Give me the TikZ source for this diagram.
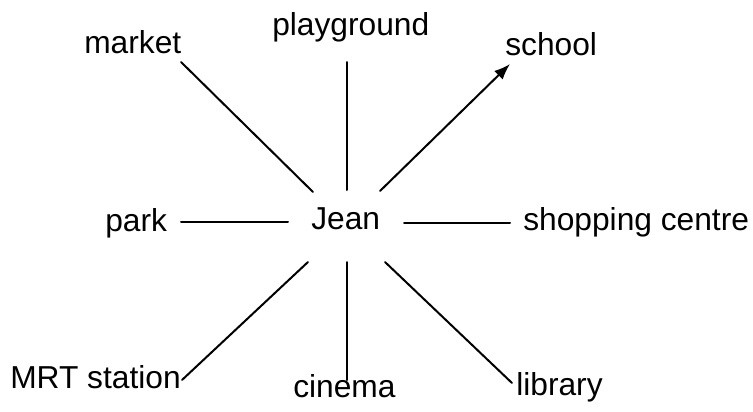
\documentclass[tikz,border=0pt]{standalone}
\usepackage{fontspec}
\setmainfont{Liberation Sans}
\usetikzlibrary{arrows.meta}
\begin{document}
\begin{tikzpicture}[x=0.75pt,y=-0.75pt,
  lbl/.style={anchor=base west,inner sep=0pt,font=\fontsize{23.8}{28}\selectfont},
  link/.style={line width=1.5pt,line cap=round}]
\useasboundingbox (0,0) rectangle (753,411);
% labels
\node[lbl] (playground) at (272,35) {playground};
\node[lbl] (market) at (84,53) {market};
\node[lbl] (school) at (505,55) {school};
\node[lbl] (park) at (105,231) {park};
\node[lbl] (jean) at (311,229) {Jean};
\node[lbl] (shopping) at (523,230) {shopping centre};
\node[lbl] (mrt) at (10,388) {MRT station};
\node[lbl] (cinema) at (293,397) {cinema};
\node[lbl] (library) at (516,395) {library};
% connector ends
\coordinate (playground-e) at (347,62);
\coordinate (jean-n) at (347,190);
\coordinate (market-e) at (181,62);
\coordinate (jean-nw) at (313,192);
\coordinate (school-e) at (510,64);
\coordinate (jean-ne) at (380,191);
\coordinate (park-e) at (181,222);
\coordinate (jean-w) at (288,222);
\coordinate (shopping-e) at (510,223);
\coordinate (jean-e) at (404,223);
\coordinate (mrt-e) at (182,380);
\coordinate (jean-sw) at (308,262);
\coordinate (cinema-e) at (347,380);
\coordinate (jean-s) at (347,262);
\coordinate (library-e) at (512,383);
\coordinate (jean-se) at (385,262);
% connectors
\draw[link] (jean-n) -- (playground-e);
\draw[link] (jean-nw) -- (market-e);
\draw[link,-{Latex[length=12pt,width=9pt]}] (jean-ne) -- (school-e);
\draw[link] (jean-w) -- (park-e);
\draw[link] (jean-e) -- (shopping-e);
\draw[link] (jean-sw) -- (mrt-e);
\draw[link] (jean-s) -- (cinema-e);
\draw[link] (jean-se) -- (library-e);
\end{tikzpicture}
\end{document}
